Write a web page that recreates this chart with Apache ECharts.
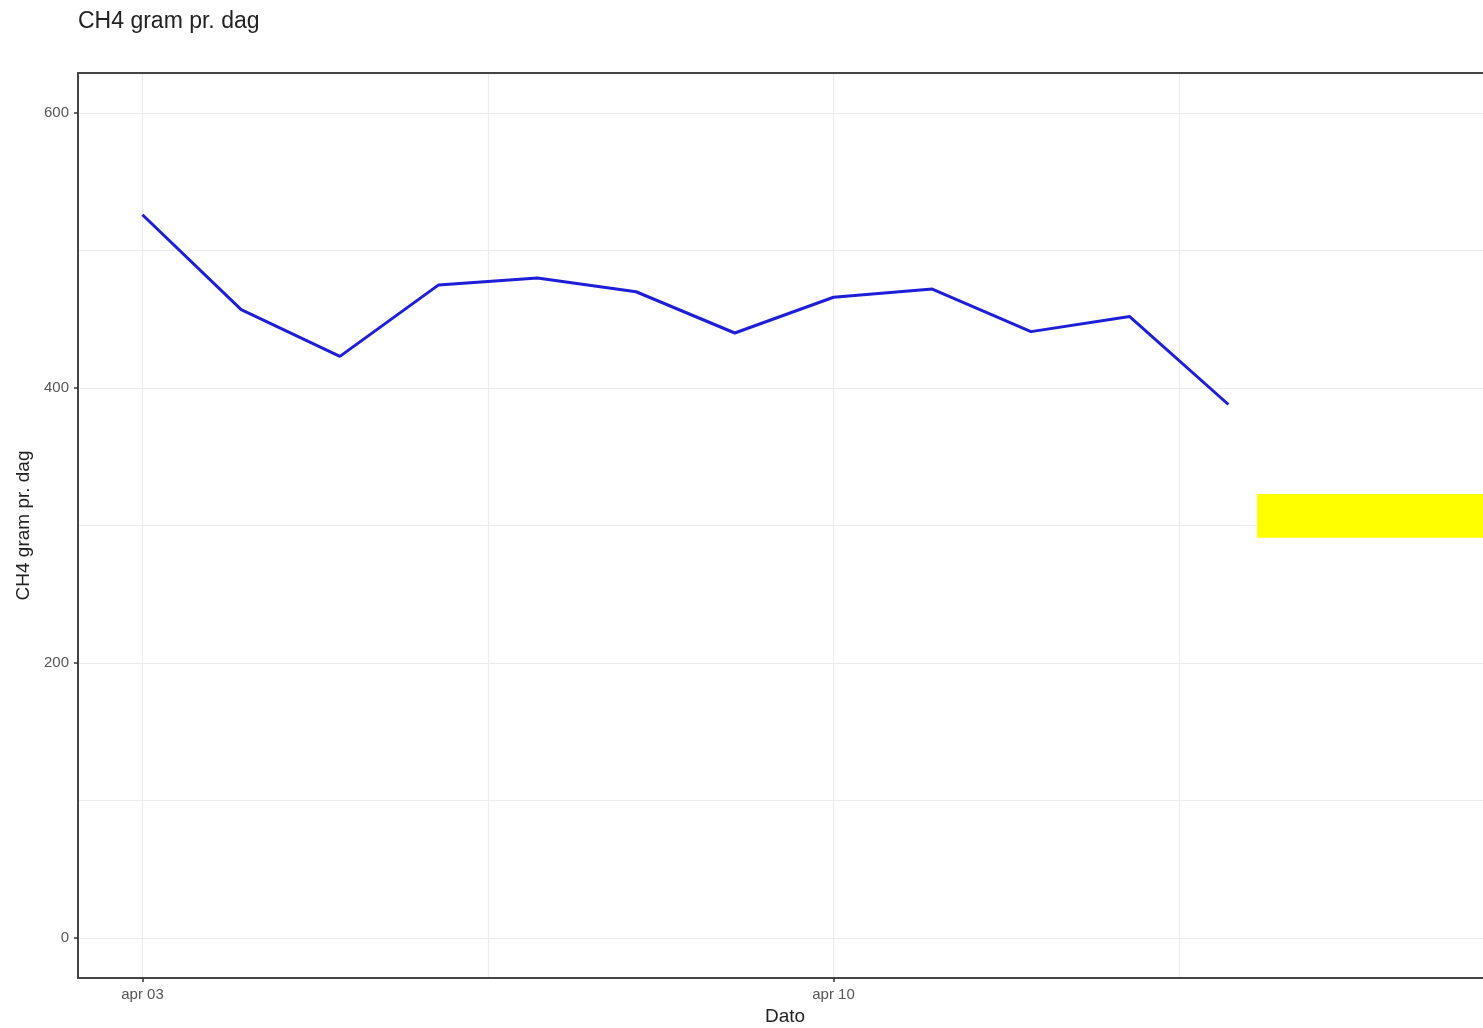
<!DOCTYPE html>
<html>
<head>
<meta charset="utf-8">
<script src="https://cdn.jsdelivr.net/npm/echarts@6/dist/echarts.min.js"></script>
<style>html,body{margin:0;padding:0;background:#fff}#c{width:1483px;height:1028px}</style>
</head>
<body>
<div id="c"></div>
<script>
// Days since apr 03
const dates = ['apr 03','apr 04','apr 05','apr 06','apr 07','apr 08','apr 09','apr 10','apr 11','apr 12','apr 13','apr 14'];
const ch4 = [526, 457, 423, 475, 480, 470, 440, 466, 472, 441, 452, 388];
const xMajorTicks = [0, 7];
const xMajorLabels = ['apr 03', 'apr 10'];
const xMinorTicks = [3.5, 10.5];
const yMajorTicks = [0, 200, 400, 600];
const yMinorTicks = [100, 300, 500];
const xRange = [-0.653, 13.67];
const yRange = [-29.1, 629.1];
// yellow highlight (redaction) region in data units
const highlightX = [11.29, 13.67];
const highlightY = [291, 323];

const font = 'Liberation Sans, Arial, sans-serif';
const chart = echarts.init(document.getElementById('c'));
chart.setOption({
  animation: false,
  backgroundColor: '#fff',
  title: {
    text: 'CH4 gram pr. dag',
    left: 73, top: 5,
    textStyle: { fontFamily: font, fontSize: 23, fontWeight: 'normal', color: '#222' }
  },
  grid: { left: 78, top: 73, right: -9, bottom: 50, containLabel: false, outerBoundsMode: 'none' },
  xAxis: [{
    type: 'value', min: xRange[0], max: xRange[1], position: 'bottom',
    name: 'Dato', nameLocation: 'middle', nameGap: 29,
    nameTextStyle: { fontFamily: font, fontSize: 19, color: '#222' },
    axisLine: { show: true, onZero: false, lineStyle: { color: '#444', width: 2 } },
    axisTick: { show: true, length: 4, customValues: xMajorTicks, lineStyle: { color: '#333', width: 1.5 } },
    axisLabel: { customValues: xMajorTicks, margin: 9, fontFamily: font, fontSize: 15, color: '#555',
      formatter: v => xMajorLabels[xMajorTicks.indexOf(v)] || '' },
    splitLine: { show: true, lineStyle: { color: '#ebebeb', width: 1.2 } }
  }, {
    type: 'value', min: xRange[0], max: xRange[1], position: 'top',
    axisLine: { show: true, onZero: false, lineStyle: { color: '#444', width: 2 } },
    axisTick: { show: false, customValues: xMinorTicks },
    axisLabel: { show: false },
    splitLine: { show: true, lineStyle: { color: '#ededed', width: 1.2 } }
  }],
  yAxis: [{
    type: 'value', min: yRange[0], max: yRange[1], position: 'left',
    name: 'CH4 gram pr. dag', nameLocation: 'middle', nameGap: 43, nameRotate: 90,
    nameTextStyle: { fontFamily: font, fontSize: 19, color: '#222' },
    axisLine: { show: true, onZero: false, lineStyle: { color: '#444', width: 2 } },
    axisTick: { show: true, length: 4, customValues: yMajorTicks, lineStyle: { color: '#333', width: 1.5 } },
    axisLabel: { customValues: yMajorTicks, margin: 9, fontFamily: font, fontSize: 15, color: '#555' },
    splitLine: { show: true, lineStyle: { color: '#ebebeb', width: 1.2 } }
  }, {
    type: 'value', min: yRange[0], max: yRange[1], position: 'right',
    axisLine: { show: false },
    axisTick: { show: false, customValues: yMinorTicks },
    axisLabel: { show: false },
    splitLine: { show: true, lineStyle: { color: '#ededed', width: 1.2 } }
  }],
  series: [{
    type: 'line',
    xAxisIndex: 0, yAxisIndex: 0,
    data: ch4.map((v, i) => [i, v]),
    showSymbol: false,
    lineStyle: { color: '#1e1ed8', width: 3 },
    z: 3,
    markArea: {
      silent: true,
      itemStyle: { color: '#ffff00' },
      data: [[{ coord: [highlightX[0], highlightY[1]] }, { coord: [highlightX[1], highlightY[0]] }]]
    }
  }]
});
</script>
</body>
</html>
